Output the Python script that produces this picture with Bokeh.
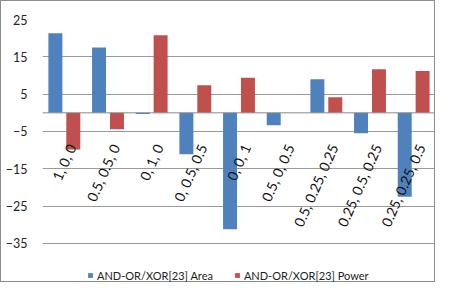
import math
from bokeh.plotting import figure
from bokeh.models import ColumnDataSource, FactorRange, FixedTicker, Span, Legend, LegendItem
from bokeh.transform import dodge
from bokeh.core.properties import value
from bokeh.embed import file_html
from bokeh.resources import INLINE

categories = ["1, 0, 0", "0.5, 0.5, 0", "0, 1, 0", "0, 0.5, 0.5", "0, 0, 1",
              "0.5, 0, 0.5", "0.5, 0.25, 0.25", "0.25, 0.5, 0.25", "0.25, 0.25, 0.5"]
area = [21.3, 17.5, -0.3, -11.1, -31.2, -3.3, 9.0, -5.5, -22.5]
power = [-9.8, -4.4, 20.8, 7.4, 9.4, 0.0, 4.2, 11.7, 11.2]
series_names = ["AND-OR/XOR[23] Area", "AND-OR/XOR[23] Power"]
y_ticks = [25, 15, 5, -5, -15, -25, -35]

BLUE = "#4F81BD"
RED = "#C0504D"
FONT = "Lato"

src = ColumnDataSource(dict(cat=categories, area=area, power=power,
                            lab_y=[-8.6] * len(categories)))

# frame extends below -35 to leave room for the legend inside the frame
p = figure(width=435, height=282, x_range=FactorRange(factors=categories),
           y_range=(-45.45, 25), output_backend="svg", toolbar_location=None,
           min_border_left=41, min_border_right=1, min_border_top=18,
           min_border_bottom=1)
p.x_range.range_padding = 0
p.x_range.factor_padding = 0
p.outline_line_color = None
p.background_fill_color = "white"
p.border_fill_color = "white"
p.styles = {"border": "1px solid #8c8c8c"}

p.xaxis.visible = False
p.xgrid.grid_line_color = None
p.ygrid.grid_line_color = "#9a9a9a"
p.ygrid.ticker = FixedTicker(ticks=y_ticks)
p.yaxis.ticker = FixedTicker(ticks=y_ticks)
p.yaxis.axis_line_color = None
p.yaxis.major_tick_line_color = None
p.yaxis.minor_tick_line_color = None
p.yaxis.major_label_standoff = 9
p.yaxis.major_label_text_font = FONT
p.yaxis.major_label_text_font_size = "12.5px"
p.yaxis.major_label_text_color = "#222222"

r_area = p.vbar(x=dodge("cat", -0.205, range=p.x_range), top="area", width=0.32,
                source=src, fill_color=BLUE, line_color=None)
r_power = p.vbar(x=dodge("cat", 0.205, range=p.x_range), top="power", width=0.32,
                 source=src, fill_color=RED, line_color=None)

p.add_layout(Span(location=0, dimension="width", line_color="#8a8a8a", line_width=1))

p.text(x=dodge("cat", 0.17, range=p.x_range), y="lab_y", text="cat", source=src,
       angle=math.radians(66), text_align="right", text_baseline="middle",
       text_font=value(FONT), text_font_size="14px", text_color="#111111")

legend = Legend(items=[LegendItem(label=series_names[0], renderers=[r_area]),
                       LegendItem(label=series_names[1], renderers=[r_power])],
                orientation="horizontal", location=(45, 0),
                glyph_width=6, glyph_height=6, label_standoff=4, spacing=21,
                label_height=14, padding=0, margin=0, border_line_color=None,
                background_fill_alpha=0,
                label_text_font=FONT, label_text_font_size="11px",
                label_text_color="#222222")
p.add_layout(legend, "center")

open("out.html", "w").write(file_html(p, INLINE))
